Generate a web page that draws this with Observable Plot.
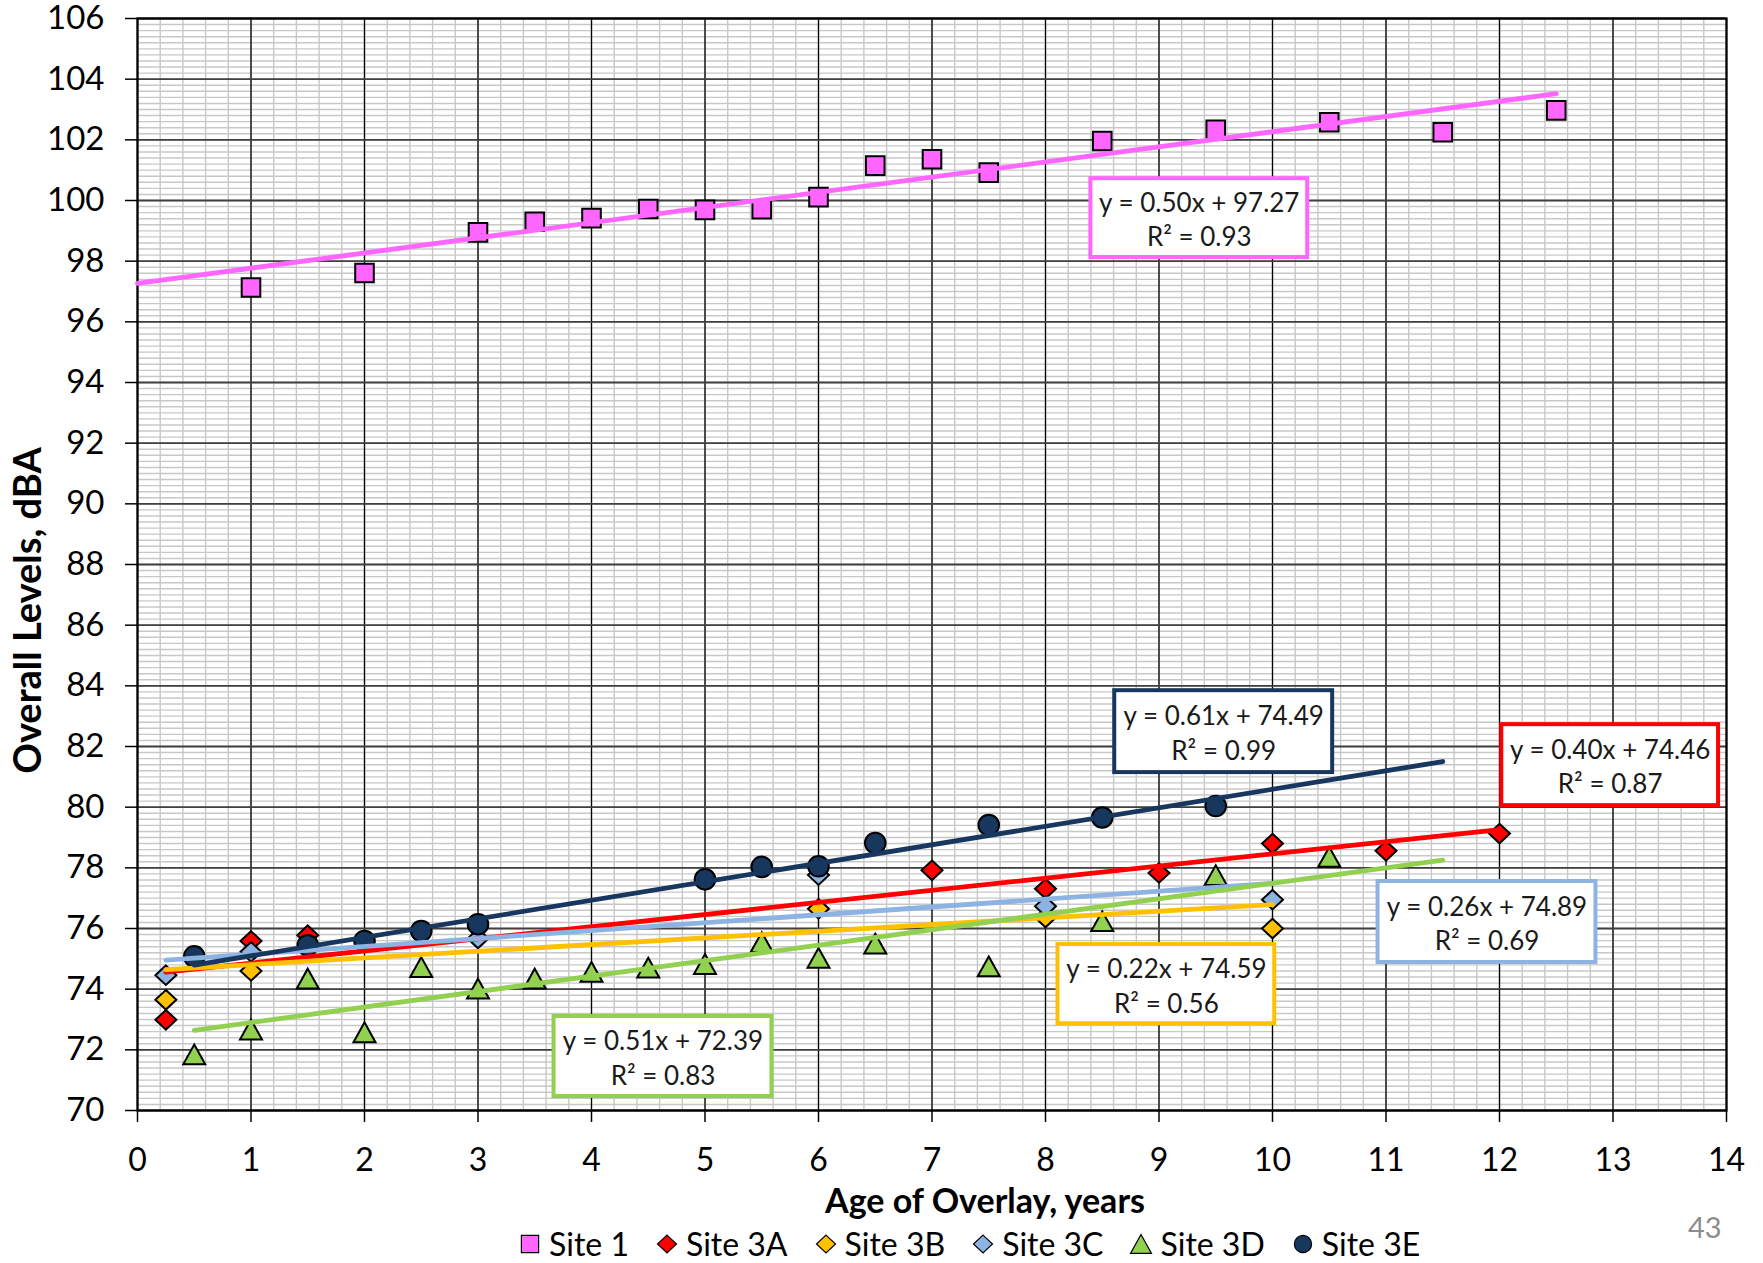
<!DOCTYPE html>
<html>
<head>
<meta charset="utf-8">
<script src="https://cdn.jsdelivr.net/npm/d3@7"></script>
<script src="https://cdn.jsdelivr.net/npm/@observablehq/plot@0.6"></script>
<style>
  html, body { margin: 0; padding: 0; background: #fff; }
  #wrap { position: relative; width: 1763px; height: 1263px; font-family: Lato, "Open Sans", sans-serif; overflow: hidden; }
  #legend { position: absolute; left: 519px; top: 1225px; height: 38px; line-height: 38px; display: flex; align-items: center; font-size: 32px; color: #000; white-space: nowrap; }
  #legend .item { display: flex; align-items: center; margin-right: 27px; }
  #legend svg { margin-right: 8px; overflow: visible; }
  #page { position: absolute; left: 1688px; top: 1209px; font-size: 29px; line-height: 36px; color: #8c8c8c; }
</style>
</head>
<body>
<div id="wrap">
  <div id="chart"></div>
  <div id="legend"></div>
  <div id="page">43</div>
</div>
<script>
// ---------- data ----------
const xTicks = [0, 1, 2, 3, 4, 5, 6, 7, 8, 9, 10, 11, 12, 13, 14];
const yTicks = [70, 72, 74, 76, 78, 80, 82, 84, 86, 88, 90, 92, 94, 96, 98, 100, 102, 104, 106];

const seriesNames = ["Site 1", "Site 3A", "Site 3B", "Site 3C", "Site 3D", "Site 3E"];
const seriesColors = ["#FF66FF", "#FF0000", "#FFC000", "#8DB3E2", "#92D050", "#17375E"];

const site1X = [1, 2, 3, 3.5, 4, 4.5, 5, 5.5, 6, 6.5, 7, 7.5, 8.5, 9.5, 10.5, 11.5, 12.5];
const site1Y = [97.13, 97.61, 98.95, 99.30, 99.42, 99.72, 99.69, 99.71, 100.11, 101.15, 101.36, 100.92, 101.96, 102.33, 102.58, 102.25, 102.97];

const site3AX = [0.25, 1, 1.5, 7, 8, 9, 10, 11, 12];
const site3AY = [72.99, 75.59, 75.78, 77.92, 77.31, 77.83, 78.80, 78.56, 79.13];

const site3BX = [0.25, 1, 6, 8, 10];
const site3BY = [73.65, 74.60, 76.65, 76.36, 76.00];

const site3CX = [0.25, 1, 3, 6, 8, 10];
const site3CY = [74.46, 75.23, 75.67, 77.76, 76.73, 76.95];

const site3DX = [0.5, 1, 1.5, 2, 2.5, 3, 3.5, 4, 4.5, 5, 5.5, 6, 6.5, 7.5, 8.5, 9.5, 10.5];
const site3DY = [71.85, 72.67, 74.35, 72.58, 74.73, 74.02, 74.35, 74.57, 74.71, 74.83, 75.55, 75.03, 75.50, 74.75, 76.24, 77.76, 78.36];

const site3EX = [0.5, 1.5, 2, 2.5, 3, 5, 5.5, 6, 6.5, 7.5, 8.5, 9.5];
const site3EY = [75.08, 75.45, 75.59, 75.92, 76.14, 77.62, 78.03, 78.05, 78.82, 79.41, 79.66, 80.04];

// trendlines (from the chart's equation labels) and their x extents
const trendSlope     = [0.50, 0.40, 0.22, 0.26, 0.51, 0.61];
const trendIntercept = [97.27, 74.46, 74.59, 74.89, 72.39, 74.49];
const trendR2        = ["0.93", "0.87", "0.56", "0.69", "0.83", "0.99"];
const trendXStart    = [0, 0.25, 0.25, 0.25, 0.5, 0.5];
const trendXEnd      = [12.5, 12, 10, 10, 11.5, 11.5];

// equation label boxes (data coordinates)
const boxX1 = [8.40, 12.02, 8.11, 10.93, 3.67, 8.61];
const boxX2 = [10.31, 13.93, 10.02, 12.85, 5.59, 10.53];
const boxYTop = [100.72, 82.72, 75.47, 77.55, 73.10, 83.84];
const boxYBottom = [98.12, 80.05, 72.86, 74.88, 70.46, 81.14];

// ---------- symbols ----------
const symSquare = { draw(ctx, size) { const r = Math.sqrt(size / Math.PI); ctx.moveTo(-r, -r); ctx.lineTo(r, -r); ctx.lineTo(r, r); ctx.lineTo(-r, r); ctx.closePath(); } };
const symDiamond = { draw(ctx, size) { const r = Math.sqrt(size / Math.PI); const h = r * 0.93; ctx.moveTo(0, -h); ctx.lineTo(r, 0); ctx.lineTo(0, h); ctx.lineTo(-r, 0); ctx.closePath(); } };
const symTriangle = { draw(ctx, size) { const r = Math.sqrt(size / Math.PI); const h = r * 0.9; ctx.moveTo(0, -h); ctx.lineTo(r, h); ctx.lineTo(-r, h); ctx.closePath(); } };
const symCircle = { draw(ctx, size) { const r = Math.sqrt(size / Math.PI); ctx.moveTo(r, 0); ctx.arc(0, 0, r, 0, 2 * Math.PI); ctx.closePath(); } };

const seriesX = [site1X, site3AX, site3BX, site3CX, site3DX, site3EX];
const seriesY = [site1Y, site3AY, site3BY, site3CY, site3DY, site3EY];
const seriesSymbol = [symSquare, symDiamond, symDiamond, symDiamond, symTriangle, symCircle];
const seriesR = [9.3, 10.5, 10.5, 10.5, 11, 10.3];

const series = seriesNames.map((name, i) => ({
  name, color: seriesColors[i], symbol: seriesSymbol[i], r: seriesR[i],
  points: seriesX[i].map((x, j) => ({x, y: seriesY[i][j]})),
  trend: [trendXStart[i], trendXEnd[i]].map(x => ({x, y: trendSlope[i] * x + trendIntercept[i]})),
  box: {x1: boxX1[i], x2: boxX2[i], y1: boxYBottom[i], y2: boxYTop[i], color: seriesColors[i],
        text: `y = ${trendSlope[i].toFixed(2)}x + ${trendIntercept[i].toFixed(2)}\nR² = ${trendR2[i]}`}
}));

const minorX = d3.range(0, 14.0001, 0.2);
const minorY = d3.range(70, 106.0001, 0.2);

const marks = [
  Plot.gridX(minorX, {stroke: "#c8c8c8", strokeOpacity: 1, strokeWidth: 1.4}),
  Plot.gridY(minorY, {stroke: "#c8c8c8", strokeOpacity: 1, strokeWidth: 1.4}),
  Plot.gridX(xTicks, {stroke: "#000", strokeOpacity: 1, strokeWidth: 1.3}),
  Plot.gridY(yTicks, {stroke: "#404040", strokeOpacity: 1, strokeWidth: 1.8}),
  Plot.frame({stroke: "#000", strokeWidth: 2.2}),
  Plot.axisX(xTicks, {tickSize: 12, tickPadding: 26, fontSize: 32, label: null, strokeWidth: 1.5, tickFormat: d => String(d)}),
  Plot.axisY(yTicks, {tickSize: 12, tickPadding: 21, fontSize: 33, label: null, strokeWidth: 1.5, tickFormat: d => String(d)})
];
for (const s of series) {
  marks.push(Plot.dot(s.points, {x: "x", y: "y", symbol: s.symbol, r: s.r, fill: s.color, stroke: "#000", strokeWidth: 2}));
}
for (const s of series) {
  marks.push(Plot.line(s.trend, {x: "x", y: "y", stroke: s.color, strokeWidth: 4.8}));
}
const boxes = series.map(s => s.box);
marks.push(Plot.rect(boxes, {x1: "x1", x2: "x2", y1: "y1", y2: "y2", fill: "white", stroke: "color", strokeWidth: 4}));
marks.push(Plot.text(boxes, {x: d => (d.x1 + d.x2) / 2, y: d => (d.y1 + d.y2) / 2, text: "text", fontSize: 26, lineHeight: 1.33, fill: "#1a1a1a"}));
marks.push(Plot.text(["Age of Overlay, years"], {frameAnchor: "bottom", textAnchor: "middle", dx: 53, dy: 102, fontSize: 34, fontWeight: "bold", fill: "#000"}));
marks.push(Plot.text(["Overall Levels, dBA"], {frameAnchor: "left", textAnchor: "middle", rotate: -90, dx: -109, dy: 46, fontSize: 38, fontWeight: "bold", fill: "#000"}));

const chart = Plot.plot({
  width: 1763, height: 1222,
  marginLeft: 137, marginRight: 37, marginTop: 18, marginBottom: 112,
  x: {domain: [0, 14]},
  y: {domain: [70, 106]},
  color: {type: "identity"},
  style: {fontFamily: "Lato, 'Open Sans', sans-serif", color: "#000", background: "white", overflow: "visible"},
  marks
});
document.getElementById("chart").appendChild(chart);

// ---------- legend ----------
const legend = document.getElementById("legend");
const legendR = [8.6, 9.5, 9.5, 9.5, 10.5, 8.6];
series.forEach((s, i) => {
  const item = document.createElement("span");
  item.className = "item";
  const w = 22, h = 22;
  const svg = d3.create("svg").attr("width", w).attr("height", h);
  svg.append("path")
    .attr("transform", `translate(${w / 2},${h / 2})`)
    .attr("d", d3.symbol(s.symbol, legendR[i] * legendR[i] * Math.PI)())
    .attr("fill", s.color).attr("stroke", "#000").attr("stroke-width", 1.2);
  item.appendChild(svg.node());
  const label = document.createElement("span");
  label.textContent = s.name;
  item.appendChild(label);
  legend.appendChild(item);
});
</script>
</body>
</html>
